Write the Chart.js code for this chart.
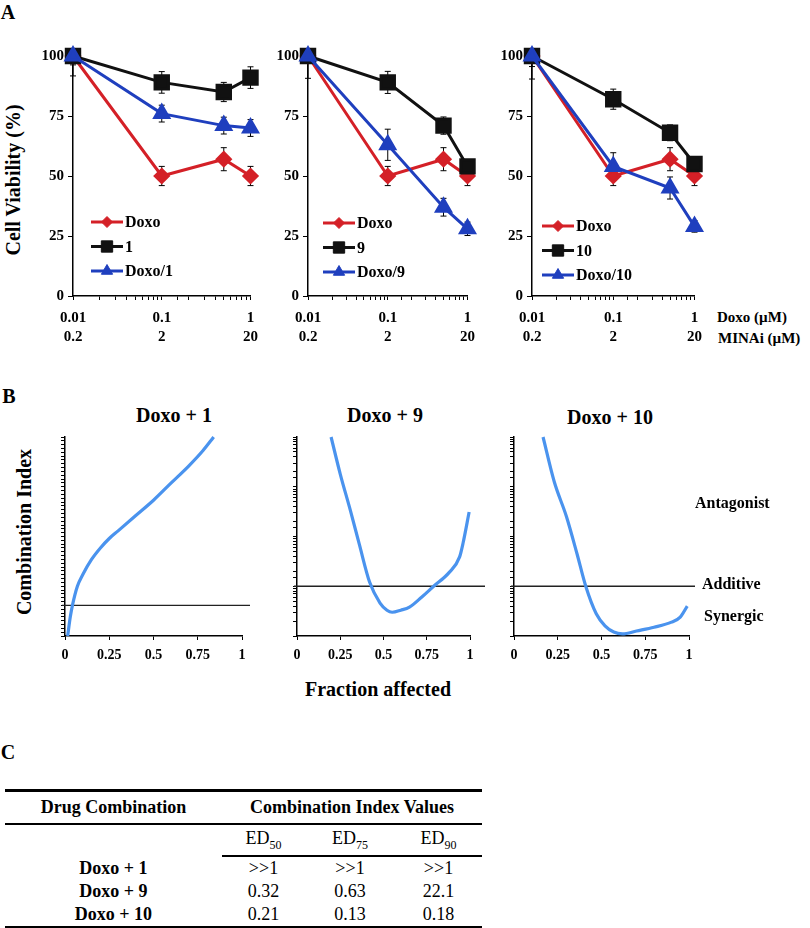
<!DOCTYPE html>
<html>
<head>
<meta charset="utf-8">
<script src="https://cdn.jsdelivr.net/npm/chart.js@4.4.0/dist/chart.umd.min.js"></script>
<style>
  body { margin: 0; background: #fff; }
  #page { position: relative; width: 810px; height: 928px; overflow: hidden;
          font-family: 'Liberation Serif', 'Times New Roman', serif; color: #000; }
  canvas { position: absolute; }
  .lbl { position: absolute; font-weight: bold; white-space: nowrap; transform: translate(-50%, -50%); }
  .lft { position: absolute; font-weight: bold; white-space: nowrap; transform: translateY(-50%); }
  .rot { position: absolute; font-weight: bold; white-space: nowrap; transform: translate(-50%, -50%) rotate(-90deg); }
  #ciTable { position: absolute; left: 5px; top: 789px; width: 477px; border-collapse: collapse;
             font-size: 18px; border-top: 3px solid #000; border-bottom: 3px solid #000; }
  #ciTable th, #ciTable td { padding: 0; text-align: center; }
  #ciTable tr.h1 th { height: 31px; border-bottom: 2px solid #000; font-weight: bold; }
  #ciTable tr.h2 th { height: 30px; font-weight: normal; }
  #ciTable tr.h2 th.ed { border-bottom: 2px solid #000; }
  #ciTable sub { font-size: 12px; }
  #ciTable tbody td { height: 23px; }
  #ciTable tbody td.name { font-weight: bold; }
</style>
</head>
<body>
<div id="page">
  <div class="lbl" style="left:8px;top:12px;font-size:20px;">A</div>
  <div class="lbl" style="left:9px;top:396px;font-size:20px;">B</div>
  <div class="lbl" style="left:8px;top:752px;font-size:20px;">C</div>

  <div class="rot" style="left:13px;top:180px;font-size:20px;">Cell Viability (%)</div>
  <canvas id="v1" width="233" height="306" style="left:33px;top:40px;"></canvas>
  <canvas id="v9" width="215" height="306" style="left:268px;top:40px;"></canvas>
  <canvas id="v10" width="218" height="306" style="left:492px;top:40px;"></canvas>
  <div class="lft" style="left:717px;top:317px;font-size:15px;">Doxo (µM)</div>
  <div class="lft" style="left:718px;top:338px;font-size:15px;">MINAi (µM)</div>

  <div class="lbl" style="left:174px;top:415px;font-size:20px;">Doxo + 1</div>
  <div class="lbl" style="left:385px;top:415px;font-size:20px;">Doxo + 9</div>
  <div class="lbl" style="left:610px;top:417px;font-size:20px;">Doxo + 10</div>
  <div class="rot" style="left:24px;top:532px;font-size:20px;">Combination Index</div>
  <canvas id="c1" width="203" height="237" style="left:53px;top:429px;"></canvas>
  <canvas id="c9" width="205" height="237" style="left:285px;top:429px;"></canvas>
  <canvas id="c10" width="201" height="237" style="left:502px;top:429px;"></canvas>
  <div class="lft" style="left:695px;top:503px;font-size:16px;">Antagonist</div>
  <div class="lft" style="left:702px;top:584px;font-size:16px;">Additive</div>
  <div class="lft" style="left:704px;top:616px;font-size:16px;">Synergic</div>
  <div class="lbl" style="left:378px;top:689px;font-size:20px;">Fraction affected</div>

  <table id="ciTable">
    <colgroup><col style="width:217px"><col style="width:83px"><col style="width:90px"><col style="width:87px"></colgroup>
    <thead>
      <tr class="h1"><th>Drug Combination</th><th colspan="3">Combination Index Values</th></tr>
      <tr class="h2"><th></th><th class="ed">ED<sub>50</sub></th><th class="ed">ED<sub>75</sub></th><th class="ed">ED<sub>90</sub></th></tr>
    </thead>
    <tbody id="ciBody"></tbody>
  </table>
</div>

<script>
// ---- panel A: viability vs dose ----
const doses = [0.01, 0.1, 0.5, 1];
const doxoTicks = [0.01, 0.1, 1];
const doxoTickLabels = ['0.01', '0.1', '1'];
const minaTickLabels = ['0.2', '2', '20'];

const doxoAlone = [100, 50, 57, 50];
const doxoAloneErr = [0, 4, 4.8, 4];

const comp1 = [100, 89, 85, 91];
const comp1Err = [3.7, 4.5, 4, 4.5];
const doxoComp1 = [100, 76, 71, 70];
const doxoComp1Err = [8.3, 3.5, 3.5, 3.5];

const comp9 = [100, 89, 71, 54];
const comp9Err = [2.4, 4.6, 3.6, 2];
const doxoComp9 = [100, 63, 37, 28];
const doxoComp9Err = [9.3, 6.5, 3.7, 2.8];

const comp10 = [100, 82, 68, 55];
const comp10Err = [4.4, 4.2, 3.3, 1.7];
const doxoComp10 = [100, 54, 45, 29];
const doxoComp10Err = [9.6, 5.7, 4.6, 2.4];

// ---- panel B: combination index vs fraction affected ----
const faTicks = [0, 0.25, 0.5, 0.75, 1];

const faDoxo1 = [0.015, 0.03, 0.042, 0.07, 0.1, 0.15, 0.2, 0.25, 0.3, 0.4, 0.5, 0.6, 0.7, 0.78, 0.84];
const ciDoxo1 = [1e-8, 1e-3, 1, 1e5, 1e8, 1e12, 1e15, 3e17, 3e19, 3e23, 3e27, 1e32, 3e36, 3e40, 1e44];

const faDoxo9 = [0.197, 0.25, 0.31, 0.36, 0.42, 0.48, 0.52, 0.55, 0.6, 0.65, 0.72, 0.79, 0.88, 0.94, 0.96, 0.995];
const ciDoxo9 = [1000, 180, 32, 7, 1.2, 0.46, 0.33, 0.30, 0.33, 0.38, 0.6, 1.0, 1.9, 3.9, 7.4, 31];

const faDoxo10 = [0.166, 0.23, 0.3, 0.36, 0.41, 0.47, 0.52, 0.57, 0.62, 0.7, 0.8, 0.9, 0.95, 0.99];
const ciDoxo10 = [1000, 126, 25, 4.5, 1, 0.28, 0.16, 0.12, 0.11, 0.126, 0.15, 0.19, 0.24, 0.4];

// ---- panel C: table ----
const comboNames = ['Doxo + 1', 'Doxo + 9', 'Doxo + 10'];
const ed50 = ['>>1', '0.32', '0.21'];
const ed75 = ['>>1', '0.63', '0.13'];
const ed90 = ['>>1', '22.1', '0.18'];

const RED = '#d42027';
const BLACK = '#111111';
const BLUE = '#1f3fbe';
const CURVE = '#4a93ee';
const SERIF = "'Liberation Serif', 'Times New Roman', serif";

Chart.defaults.font.family = SERIF;
Chart.defaults.color = '#000';
Chart.defaults.animation = false;
Chart.defaults.responsive = false;
Chart.defaults.devicePixelRatio = 1;
Chart.defaults.plugins.legend.display = false;
Chart.defaults.plugins.tooltip.enabled = false;

const errorBars = {
  id: 'errorBars',
  beforeDatasetsDraw(chart) {
    const {ctx, chartArea, scales: {x, y}} = chart;
    ctx.save();
    ctx.beginPath();
    ctx.rect(chartArea.left - 20, chartArea.top, chartArea.width + 40, chartArea.height + 10);
    ctx.clip();
    ctx.strokeStyle = '#000';
    ctx.lineWidth = 1;
    chart.data.datasets.forEach(ds => {
      if (!ds.errors) return;
      ds.data.forEach((p, j) => {
        const e = ds.errors[j];
        if (!e) return;
        const px = x.getPixelForValue(p.x);
        const top = y.getPixelForValue(p.y + e);
        const bot = y.getPixelForValue(p.y - e);
        ctx.beginPath();
        ctx.moveTo(px, top); ctx.lineTo(px, bot);
        ctx.moveTo(px - 3, top); ctx.lineTo(px + 3, top);
        ctx.moveTo(px - 3, bot); ctx.lineTo(px + 3, bot);
        ctx.stroke();
      });
    });
    ctx.restore();
  }
};

const insideLegend = {
  id: 'insideLegend',
  afterDraw(chart, args, opts) {
    const {ctx, chartArea} = chart;
    ctx.save();
    chart.data.datasets.forEach((ds, i) => {
      const y = chartArea.top + opts.top + i * opts.gap;
      const x0 = chartArea.left + opts.left;
      ctx.strokeStyle = ds.borderColor;
      ctx.lineWidth = 3;
      ctx.beginPath();
      ctx.moveTo(x0, y); ctx.lineTo(x0 + 32, y);
      ctx.stroke();
      ctx.fillStyle = ds.pointBackgroundColor;
      ctx.lineWidth = 1;
      Chart.helpers.drawPoint(ctx, {pointStyle: ds.pointStyle, radius: ds.legendRadius, borderWidth: 1, rotation: 0}, x0 + 16, y);
      ctx.fillStyle = '#000';
      ctx.font = 'bold 16px ' + SERIF;
      ctx.textBaseline = 'middle';
      ctx.fillText(ds.label, x0 + 34, y + 1);
    });
    ctx.restore();
  }
};

function pairs(xs, ys) {
  return xs.map((v, i) => ({x: v, y: ys[i]}));
}

function viabilityChart(id, compName, compVals, compErr, comboVals, comboErr, legendLeft, legendTop) {
  new Chart(document.getElementById(id), {
    type: 'line',
    data: {
      datasets: [
        {label: 'Doxo', data: pairs(doses, doxoAlone), errors: doxoAloneErr,
         borderColor: RED, pointBackgroundColor: RED, pointBorderColor: RED,
         pointStyle: 'rectRot', pointRadius: 6.5, legendRadius: 5.5, borderWidth: 3, order: 2, clip: false},
        {label: compName, data: pairs(doses, compVals), errors: compErr,
         borderColor: BLACK, pointBackgroundColor: BLACK, pointBorderColor: BLACK,
         pointStyle: 'rect', pointRadius: 9.5, legendRadius: 8, borderWidth: 3, order: 1, clip: false},
        {label: 'Doxo/' + compName, data: pairs(doses, comboVals), errors: comboErr,
         borderColor: BLUE, pointBackgroundColor: BLUE, pointBorderColor: BLUE,
         pointStyle: 'triangle', pointRadius: 8, legendRadius: 6.5, borderWidth: 3, order: 0, clip: false}
      ]
    },
    options: {
      layout: {padding: {top: 16, right: 10, left: 0, bottom: 0}},
      plugins: {insideLegend: {left: legendLeft, top: legendTop, gap: 24.5}},
      scales: {
        x: {
          type: 'logarithmic', min: 0.01, max: 1,
          border: {color: '#000', width: 1.5},
          grid: {drawOnChartArea: false, tickLength: 4, tickColor: '#000'},
          ticks: {
            autoSkip: false, maxRotation: 0, padding: 8,
            font: {size: 15, weight: 'bold', lineHeight: 1.3},
            callback: v => {
              const k = doxoTicks.findIndex(t => Math.abs(t - v) < t * 1e-6);
              return k < 0 ? '' : [doxoTickLabels[k], minaTickLabels[k]];
            }
          },
          afterFit: s => { s.height = 50; }
        },
        y: {
          min: 0, max: 100,
          border: {color: '#000', width: 1.5},
          grid: {drawOnChartArea: false, tickLength: 5, tickColor: '#000'},
          ticks: {stepSize: 25, padding: 4, font: {size: 15, weight: 'bold'}},
          afterFit: s => { s.width = 40; }
        }
      }
    },
    plugins: [errorBars, insideLegend]
  });
}

viabilityChart('v1', '1', comp1, comp1Err, doxoComp1, doxoComp1Err, 18, 166);
viabilityChart('v9', '9', comp9, comp9Err, doxoComp9, doxoComp9Err, 15, 167);
viabilityChart('v10', '10', comp10, comp10Err, doxoComp10, doxoComp10Err, 10, 170);

const additiveLine = {
  id: 'additiveLine',
  beforeDatasetsDraw(chart, args, opts) {
    const {ctx, chartArea, scales: {y}} = chart;
    const py = y.getPixelForValue(1);
    ctx.save();
    ctx.strokeStyle = '#222';
    ctx.lineWidth = 1.3;
    ctx.beginPath();
    ctx.moveTo(chartArea.left - 3, py);
    ctx.lineTo(chartArea.right + opts.extend, py);
    ctx.stroke();
    ctx.restore();
  }
};

function ciChart(id, fa, ci, yMin, yMax, decadeTicks, rightPad, extend) {
  new Chart(document.getElementById(id), {
    type: 'line',
    data: {
      datasets: [{
        data: pairs(fa, ci), borderColor: CURVE, borderWidth: 3.2,
        pointRadius: 0, cubicInterpolationMode: 'monotone', clip: false
      }]
    },
    options: {
      layout: {padding: {top: 8, right: rightPad, left: 0, bottom: 0}},
      plugins: {additiveLine: {extend: extend}},
      scales: {
        x: {
          type: 'linear', min: 0, max: 1,
          border: {color: '#000', width: 1.5},
          grid: {drawOnChartArea: false, tickLength: 4, tickColor: '#000'},
          ticks: {autoSkip: false, maxRotation: 0, padding: 7, font: {size: 14, weight: 'bold'},
                  callback: v => String(v)},
          afterBuildTicks: s => { s.ticks = faTicks.map(v => ({value: v})); },
          afterFit: s => { s.height = 30; }
        },
        y: {
          type: 'logarithmic', min: yMin, max: yMax,
          border: {color: '#000', width: 1.5},
          grid: {drawOnChartArea: false, tickLength: 4, tickColor: '#000', tickWidth: 1},
          ticks: {display: false, autoSkip: false},
          afterBuildTicks: s => {
            if (!decadeTicks) return;
            const lo = Math.round(Math.log10(yMin)), hi = Math.round(Math.log10(yMax));
            const t = [];
            for (let e = lo; e <= hi; e++) t.push({value: Math.pow(10, e)});
            s.ticks = t;
          },
          afterFit: s => { s.width = 12; }
        }
      }
    },
    plugins: [additiveLine]
  });
}

ciChart('c1', faDoxo1, ciDoxo1, 1e-8, 1e44, true, 14, 8);
ciChart('c9', faDoxo9, ciDoxo9, 0.1, 1000, false, 20, 15);
ciChart('c10', faDoxo10, ciDoxo10, 0.1, 1000, false, 14, 6);

// table rows
const body = document.getElementById('ciBody');
comboNames.forEach((name, i) => {
  const tr = document.createElement('tr');
  [name, ed50[i], ed75[i], ed90[i]].forEach((txt, k) => {
    const td = document.createElement('td');
    td.textContent = txt;
    if (k === 0) td.className = 'name';
    tr.appendChild(td);
  });
  body.appendChild(tr);
});
</script>
</body>
</html>
